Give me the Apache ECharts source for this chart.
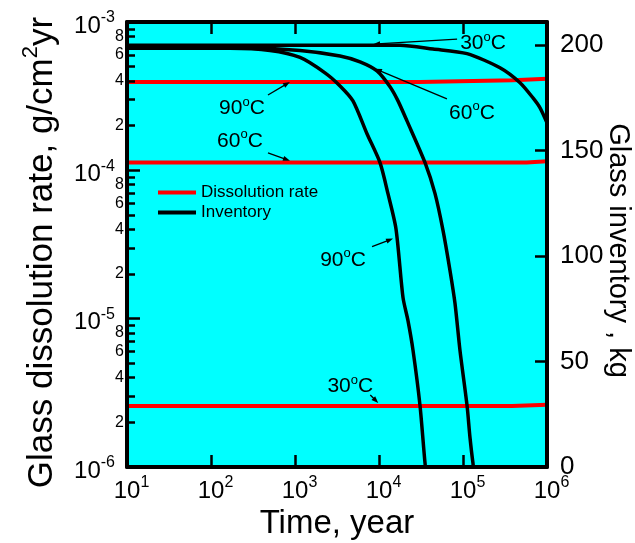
<!DOCTYPE html>
<html>
<head>
<meta charset="utf-8">
<script src="https://cdn.jsdelivr.net/npm/echarts@6/dist/echarts.min.js"></script>
<style>
  html, body { margin: 0; padding: 0; background: #fff; }
  #chart { width: 635px; height: 543px; }
</style>
</head>
<body>
<div id="chart"></div>
<script>
const FONT = '"Liberation Sans", Arial, Helvetica, sans-serif';

// Glass dissolution rate (g/cm^2/yr) against time (years)
const rate90Years = [10, 30760, 30760, 393000, 393000, 1000000];
const rate90 = [3.94e-4, 3.94e-4, 4.05e-4, 4.05e-4, 4.15e-4, 4.15e-4];
const rate60Years = [10, 572000, 572000, 1000000];
const rate60 = [1.13e-4, 1.13e-4, 1.15e-4, 1.15e-4];
const rate30Years = [10, 383000, 383000, 1000000];
const rate30 = [2.58e-6, 2.58e-6, 2.63e-6, 2.63e-6];

// Glass inventory (kg) against time (years)
const inv90Years = [10, 168, 504, 1148, 2275, 3436, 4898, 7194, 10280, 12790, 15920, 19320, 22130, 25410, 30760, 35320, 36310, 1000000];
const inv90Kg = [198.5, 198.5, 197.5, 194.2, 186.9, 180.7, 173.6, 158.0, 144.3, 129.6, 113.0, 80.3, 69.4, 55.3, 29.2, 1.8, 0, 0];
const inv60Years = [10, 291, 1148, 3436, 5943, 9462, 13520, 16830, 21530, 35320, 46450, 57810, 69980, 80350, 92040, 111700, 121100, 131500, 135200, 1000000];
const inv60Kg = [198.5, 198.5, 197.5, 194.9, 192.1, 187.8, 180.3, 173.6, 164.1, 144.3, 129.6, 112.2, 93.2, 77.5, 55.3, 29.2, 14.0, 1.8, 0, 0];
const inv30Years = [10, 17780, 43950, 111700, 275400, 477500, 680800, 826000, 1000000];
const inv30Kg = [200, 200, 198.2, 196.0, 189.3, 182.2, 175.0, 170.3, 163.2];

// Minor decade ticks and labels on the rate axis
const minorTickDigits = [2, 3, 4, 5, 6, 7, 8, 9];
const minorLabelDigits = [2, 4, 6, 8];
const rateDecades = [-6, -5, -4];

const pairs = (xs, ys) => xs.map((x, i) => [x, ys[i]]);
const minorTickLogs = [];
const minorLabelLogs = [];
rateDecades.forEach(k => {
  minorTickDigits.forEach(m => minorTickLogs.push(k + Math.log10(m)));
  minorLabelDigits.forEach(m => minorLabelLogs.push(k + Math.log10(m)));
});

const powRich = (padLeft) => ({
  b: { fontFamily: FONT, fontSize: 24, lineHeight: 24, color: '#000', padding: [8, 0, 0, padLeft] },
  s: { fontFamily: FONT, fontSize: 16, lineHeight: 16, color: '#000', verticalAlign: 'top' }
});
const powLabel = v => '{b|10}{s|' + Math.round(Math.log10(v)) + '}';

const frame = { show: true, onZero: false, lineStyle: { color: '#000', width: 4 } };
const tick = len => ({ show: true, inside: true, length: len, lineStyle: { color: '#000', width: 2.5 } });

const rateLine = (xs, ys) => ({
  name: 'Dissolution rate', type: 'line', xAxisIndex: 0, yAxisIndex: 0,
  data: pairs(xs, ys), showSymbol: false, symbol: 'none', color: '#ff0000',
  lineStyle: { color: '#ff0000', width: 4 }, z: 3, animation: false
});
const invLine = (xs, ys) => ({
  name: 'Inventory', type: 'line', xAxisIndex: 0, yAxisIndex: 1,
  data: pairs(xs, ys), showSymbol: false, symbol: 'none', color: '#000',
  smooth: 0.25,
  lineStyle: { color: '#000', width: 3.5 }, z: 4, animation: false
});

const chart = echarts.init(document.getElementById('chart'), null, { renderer: 'canvas' });

chart.setOption({
  animation: false,
  backgroundColor: '#ffffff',
  textStyle: { fontFamily: FONT },
  grid: {
    left: 127, right: 88, top: 22, bottom: 76, z: 0,
    show: true, backgroundColor: '#00ffff', borderWidth: 0,
    containLabel: false, outerBoundsMode: 'none'
  },
  legend: {
    left: 153, top: 179, orient: 'vertical', icon: 'rect',
    itemWidth: 38, itemHeight: 4, itemGap: 3,
    selectedMode: false,
    textStyle: { fontFamily: FONT, fontSize: 17, lineHeight: 17, color: '#000' },
    data: ['Dissolution rate', 'Inventory']
  },
  xAxis: [
    {
      type: 'log', logBase: 10, min: 10, max: 1000000, splitNumber: 5, position: 'bottom', z: 10,
      axisLine: frame, axisTick: tick(12), splitLine: { show: false }, minorTick: { show: false },
      axisLabel: { margin: 8, formatter: powLabel, rich: powRich(9), showMinLabel: true, showMaxLabel: true },
      name: 'Time, year', nameLocation: 'middle', nameGap: 38,
      nameTextStyle: { fontFamily: FONT, fontSize: 33, color: '#000' }
    },
    {
      type: 'log', logBase: 10, min: 10, max: 1000000, splitNumber: 5, position: 'top', z: 10,
      axisLine: frame, axisTick: tick(12), splitLine: { show: false }, axisLabel: { show: false }
    }
  ],
  yAxis: [
    {
      type: 'log', logBase: 10, min: 1e-6, max: 1e-3, splitNumber: 3, position: 'left', z: 10,
      axisLine: frame, axisTick: tick(13), splitLine: { show: false },
      axisLabel: { margin: 12, formatter: powLabel, rich: powRich(0), showMinLabel: true, showMaxLabel: true },
      name: '{t|Glass dissolution rate, g/cm}{s|2}{e|yr}', nameLocation: 'middle', nameRotate: 90, nameGap: 72,
      nameTextStyle: {
        rich: {
          t: { fontFamily: FONT, fontSize: 35, lineHeight: 35, color: '#000', padding: [10, 0, 0, 0] },
          e: { fontFamily: FONT, fontSize: 35, lineHeight: 35, color: '#000', padding: [10, 16, 0, 0] },
          s: { fontFamily: FONT, fontSize: 22, lineHeight: 22, color: '#000', verticalAlign: 'top' }
        }
      }
    },
    {
      type: 'value', min: 0, max: 211, interval: 50, position: 'right', z: 10,
      axisLine: frame, axisTick: tick(12), splitLine: { show: false },
      axisLabel: { margin: 13, fontFamily: FONT, fontSize: 26, color: '#000', showMaxLabel: false },
      name: 'Glass inventory , kg', nameLocation: 'middle', nameRotate: -90, nameGap: 56,
      nameMoveOverlap: false,
      nameTextStyle: { fontFamily: FONT, fontSize: 29, color: '#000', padding: [0, 0, 0, 12] }
    },
    {
      // decade subdivisions of the rate axis, in log10 units
      type: 'value', min: -6, max: -3, position: 'left', z: 10,
      axisLine: { show: false, onZero: false }, splitLine: { show: false },
      axisTick: { show: true, inside: true, length: 8, customValues: minorTickLogs, lineStyle: { color: '#000', width: 2.5 } },
      axisLabel: {
        margin: 3, customValues: minorLabelLogs, fontFamily: FONT, fontSize: 16, color: '#000',
        formatter: v => String(Math.round(Math.pow(10, v - Math.floor(v + 1e-9))))
      }
    }
  ],
  series: [
    rateLine(rate90Years, rate90),
    rateLine(rate60Years, rate60),
    rateLine(rate30Years, rate30),
    invLine(inv90Years, inv90Kg),
    invLine(inv60Years, inv60Kg),
    invLine(inv30Years, inv30Kg)
  ]
});

// Temperature call-outs: arrow tip in data space, tail and text offset in pixels
const callouts = [
  { text: '90', axis: 0, tip: [871, 3.94e-4], tail: [-22, 13], label: [-48, 24] },
  { text: '60', axis: 0, tip: [871, 1.16e-4], tail: [-22, -8], label: [-50, -22] },
  { text: '30', axis: 0, tip: [9800, 2.7e-6], tail: [-8, -8], label: [-28, -19] },
  { text: '30', axis: 1, tip: [8500, 200.5], tail: [84, -5], label: [110, -3] },
  { text: '60', axis: 1, tip: [8950, 188.8], tail: [72, 30], label: [97, 42] },
  { text: '90', axis: 1, tip: [14700, 108.3], tail: [-21, 8], label: [-50, 19] }
];

const graphics = [];
callouts.forEach(c => {
  const p = chart.convertToPixel({ xAxisIndex: 0, yAxisIndex: c.axis }, c.tip);
  const tx = p[0] + c.tail[0], ty = p[1] + c.tail[1];
  const dx = p[0] - tx, dy = p[1] - ty;
  const len = Math.hypot(dx, dy) || 1;
  const ux = dx / len, uy = dy / len;
  const L = 7, W = 2.6;
  graphics.push({
    type: 'line', z: 100, silent: true,
    shape: { x1: tx, y1: ty, x2: p[0] - ux * L * 0.6, y2: p[1] - uy * L * 0.6 },
    style: { stroke: '#000', lineWidth: 1.3 }
  });
  graphics.push({
    type: 'polygon', z: 100, silent: true,
    shape: { points: [
      [p[0], p[1]],
      [p[0] - ux * L - uy * W, p[1] - uy * L + ux * W],
      [p[0] - ux * L + uy * W, p[1] - uy * L - ux * W]
    ] },
    style: { fill: '#000' }
  });
  graphics.push({
    type: 'text', z: 100, silent: true,
    x: p[0] + c.label[0], y: p[1] + c.label[1],
    style: {
      text: '{n|' + c.text + '}{o|o}{n|C}',
      align: 'center', verticalAlign: 'middle',
      rich: {
        n: { fontFamily: FONT, fontSize: 21, lineHeight: 21, fill: '#000', padding: [5, 0, 0, 0] },
        o: { fontFamily: FONT, fontSize: 13, lineHeight: 13, fill: '#000', verticalAlign: 'top' }
      }
    }
  });
});
chart.setOption({ graphic: graphics });
</script>
</body>
</html>
